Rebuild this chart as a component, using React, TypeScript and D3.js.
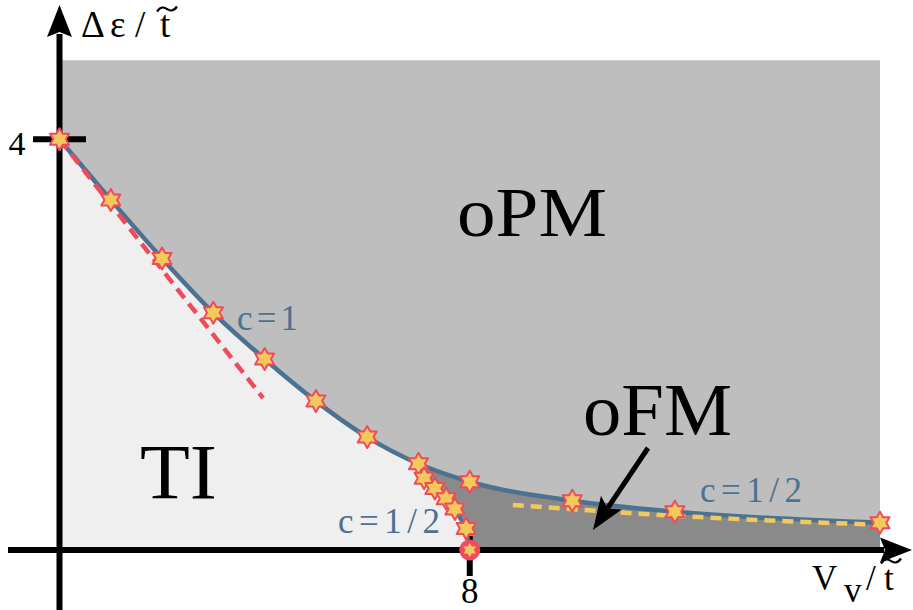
import React from "react";
import * as d3 from "d3";

// Phase boundary Δε/t̃ versus V_v/t̃ (c = 1 line, then c = 1/2 beyond V_v = 8)
const vvValues = [0, 1, 2, 3, 4, 5, 6, 7, 8, 10, 12, 16];
const gapValues = [4, 3.41, 2.84, 2.31, 1.86, 1.45, 1.1, 0.84, 0.665, 0.48, 0.373, 0.266];

// Lower c = 1/2 branch closing the TI region onto the axis at V_v = 8
const branchVv = [7, 7.11, 7.32, 7.54, 7.71, 7.93];
const branchGap = [0.84, 0.7, 0.6, 0.5, 0.4, 0.21];
const criticalVv = 8;
const criticalGap = 0;

// Small-V_v asymptote (red dashes) and large-V_v asymptote (yellow dashes)
const slopeVv = [0, 3.97];
const slopeGap = [4, 1.48];
const tailVv = [8.84, 11.96, 16];
const tailGap = [0.438, 0.334, 0.245];

const xTicks = [8];
const yTicks = [4];
const vvMax = 16;
const gapTop = 4.77;

const W = 913;
const H = 610;
const BLUE = "#4b7291";
const RED = "#ef4b5b";
const YELLOW = "#f3c95e";
const FONT = "'Liberation Serif', 'DejaVu Serif', serif";

function hexagram(cx: number, cy: number, R: number) {
  const r = R / Math.sqrt(3);
  const pts: [number, number][] = [];
  for (let k = 0; k < 12; k++) {
    const a = -Math.PI / 2 + (k * Math.PI) / 6;
    const rad = k % 2 === 0 ? R : r;
    pts.push([cx + rad * Math.cos(a), cy + rad * Math.sin(a)]);
  }
  return "M" + pts.map((p) => p.join(",")).join("L") + "Z";
}

// wide tilde accent drawn over the t of t̃
function tilde(cx: number, cy: number, w: number) {
  const h = w / 2;
  return `M${cx - h},${cy + 2.5}C${cx - h * 0.55},${cy - 4} ${cx - h * 0.2},${cy - 1} ${cx},${cy}C${cx + h * 0.2},${cy + 1} ${cx + h * 0.55},${cy + 4} ${cx + h},${cy - 2.5}`;
}

export default function App() {
  const x = d3.scaleLinear().domain([0, vvMax]).range([59.5, 880]);
  const y = d3.scaleLinear().domain([0, 4]).range([550, 139.3]);

  const main: [number, number][] = vvValues.map((v, i) => [v, gapValues[i]]);
  const branch: [number, number][] = branchVv.map((v, i) => [v, branchGap[i]]);
  const branchFull: [number, number][] = [...branch, [criticalVv, criticalGap]];

  const line = d3
    .line<[number, number]>()
    .x((d) => x(d[0]))
    .y((d) => y(d[1]))
    .curve(d3.curveMonotoneX);
  const straight = d3
    .line<[number, number]>()
    .x((d) => x(d[0]))
    .y((d) => y(d[1]));
  const area = d3
    .area<[number, number]>()
    .x((d) => x(d[0]))
    .y0(y(0))
    .y1((d) => y(d[1]))
    .curve(d3.curveMonotoneX);

  // clip polygon: everything left of the lower branch
  const clipPts: [number, number][] = [
    [-1, -1],
    [-1, gapTop + 1],
    [branch[0][0], gapTop + 1],
    ...branchFull,
    [criticalVv, -1],
  ];

  const slopePts: [number, number][] = slopeVv.map((v, i) => [v, slopeGap[i]]);
  const tailPts: [number, number][] = tailVv.map((v, i) => [v, tailGap[i]]);

  const x0 = x(0);
  const y0 = y(0);
  const xEnd = 880;
  const yEnd = 8;

  // oFM arrow
  const aStart: [number, number] = [648, 448];
  const aTip: [number, number] = [593, 530];
  const dx = aTip[0] - aStart[0];
  const dy = aTip[1] - aStart[1];
  const len = Math.hypot(dx, dy);
  const ux = dx / len;
  const uy = dy / len;
  const hl = 33;
  const hw = 12.5;
  const bx = aTip[0] - hl * ux;
  const by = aTip[1] - hl * uy;
  const nx = aTip[0] - 26 * ux;
  const ny = aTip[1] - 26 * uy;
  const arrowHead = `M${aTip[0]},${aTip[1]}L${bx + hw * uy},${by - hw * ux}L${nx},${ny}L${bx - hw * uy},${by + hw * ux}Z`;

  return (
    <svg
      width={W}
      height={H}
      viewBox={`0 0 ${W} ${H}`}
      style={{ position: "absolute", left: 0, top: 0, background: "#fff" }}
    >
      <defs>
        <clipPath id="ti-clip">
          <path d={straight(clipPts) ?? ""} />
        </clipPath>
      </defs>

      {/* oPM background */}
      <rect x={x(0)} y={y(gapTop)} width={x(vvMax) - x(0)} height={y(0) - y(gapTop)} fill="#bebebe" />
      {/* oFM region under the curve */}
      <path d={area(main) ?? ""} fill="#8a8a8a" />
      {/* TI region */}
      <path d={area(main) ?? ""} fill="#efefef" clipPath="url(#ti-clip)" />

      {/* axes */}
      <line x1={8} y1={y0} x2={xEnd + 4} y2={y0} stroke="#000" strokeWidth={6} />
      <path d={`M${xEnd + 32},${y0}L${xEnd},${y0 - 12.5}L${xEnd + 5},${y0}L${xEnd},${y0 + 12.5}Z`} fill="#000" />
      <line x1={x0} y1={H} x2={x0} y2={yEnd + 26} stroke="#000" strokeWidth={6} />
      <path d={`M${x0},${yEnd - 3}L${x0 - 12.5},${yEnd + 29}L${x0},${yEnd + 24}L${x0 + 12.5},${yEnd + 29}Z`} fill="#000" />

      {yTicks.map((t) => (
        <g key={"y" + t}>
          <line x1={33} x2={86} y1={y(t)} y2={y(t)} stroke="#000" strokeWidth={6} />
          <text x={17} y={y(t) + 16} fontSize={34} fontFamily={FONT} textAnchor="middle">
            {t}
          </text>
        </g>
      ))}
      {xTicks.map((t) => (
        <g key={"x" + t}>
          <line x1={x(t)} x2={x(t)} y1={y0 - 14} y2={y0 + 26} stroke="#000" strokeWidth={6} />
          <text x={x(t)} y={603} fontSize={35} fontFamily={FONT} textAnchor="middle">
            {t}
          </text>
        </g>
      ))}

      {/* boundary lines */}
      <path d={line(main) ?? ""} fill="none" stroke={BLUE} strokeWidth={4.5} />
      <path d={straight(branchFull) ?? ""} fill="none" stroke={BLUE} strokeWidth={4} />
      <path
        d={straight(slopePts) ?? ""}
        fill="none"
        stroke={RED}
        strokeWidth={4.5}
        strokeDasharray="12 7"
      />
      <path
        d={line(tailPts) ?? ""}
        fill="none"
        stroke={YELLOW}
        strokeWidth={4.5}
        strokeDasharray="11 7"
      />

      {/* data points */}
      {main.map((d, i) => (
        <path key={"m" + i} d={hexagram(x(d[0]), y(d[1]), 11)} fill={YELLOW} stroke={RED} strokeWidth={2} strokeLinejoin="round" />
      ))}
      {branch.slice(1).map((d, i) => (
        <path key={"b" + i} d={hexagram(x(d[0]), y(d[1]), 11)} fill={YELLOW} stroke={RED} strokeWidth={2} strokeLinejoin="round" />
      ))}
      <circle cx={x(criticalVv)} cy={y(criticalGap)} r={10.5} fill={RED} />
      <path d={hexagram(x(criticalVv), y(criticalGap), 7)} fill={YELLOW} />

      {/* arrow */}
      <line x1={aStart[0]} y1={aStart[1]} x2={nx} y2={ny} stroke="#000" strokeWidth={5} />
      <path d={arrowHead} fill="#000" />

      {/* phase labels */}
      <text x={457} y={236} fontSize={70} fontFamily={FONT} textLength={150} lengthAdjust="spacingAndGlyphs">
        oPM
      </text>
      <text x={140} y={498} fontSize={78} fontFamily={FONT} textLength={77} lengthAdjust="spacingAndGlyphs">
        TI
      </text>
      <text x={583} y={435} fontSize={74} fontFamily={FONT} textLength={149} lengthAdjust="spacingAndGlyphs">
        oFM
      </text>

      {/* central charge labels */}
      <text x={237} y={330} fontSize={35} fontFamily={FONT} fill={BLUE} textLength={61} lengthAdjust="spacing">
        c=1
      </text>
      <text x={338} y={533} fontSize={35} fontFamily={FONT} fill={BLUE} textLength={102} lengthAdjust="spacing">
        c=1/2
      </text>
      <text x={700} y={502} fontSize={35} fontFamily={FONT} fill={BLUE} textLength={102} lengthAdjust="spacing">
        c=1/2
      </text>

      {/* axis titles */}
      <text y={37} fontSize={37} fontFamily={FONT}>
        <tspan x={81}>Δ</tspan>
        <tspan x={110}>ε</tspan>
        <tspan x={135}>/</tspan>
        <tspan x={160}>t</tspan>
      </text>
      <path d={tilde(167, 9, 20)} fill="none" stroke="#000" strokeWidth={2.2} />
      <text y={590} fontSize={35} fontFamily={FONT}>
        <tspan x={812}>V</tspan>
        <tspan x={844} dy={12}>v</tspan>
        <tspan x={866} dy={-12}>/</tspan>
        <tspan x={884}>t</tspan>
      </text>
      <path d={tilde(891, 561, 20)} fill="none" stroke="#000" strokeWidth={2.2} />
    </svg>
  );
}
